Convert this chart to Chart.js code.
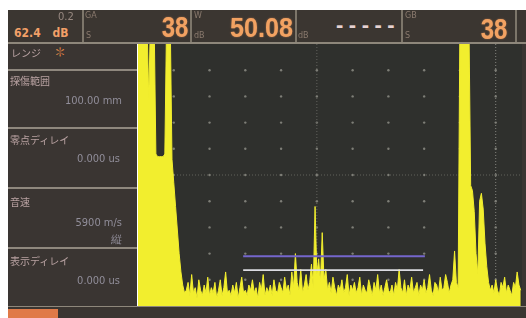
<!DOCTYPE html>
<html><head><meta charset="utf-8">
<script src="https://cdn.jsdelivr.net/npm/chart.js@4.4.0/dist/chart.umd.min.js"></script>
<style>
html,body{margin:0;padding:0;background:#fff;width:526px;height:318px;overflow:hidden;}
#wrap{position:relative;width:526px;height:318px;font-family:"Noto Sans CJK JP","DejaVu Sans",sans-serif;}
#c{position:absolute;left:0;top:0;z-index:2;}
.box{position:absolute;}
.t{position:absolute;white-space:nowrap;line-height:1;}
.big{font-family:"Liberation Sans",Arial,sans-serif;font-weight:bold;color:#f2a262;text-shadow:0 0 2px rgba(240,150,90,0.6);transform-origin:right top;}
.lab{color:#b9a2a2;font-size:10px;filter:blur(0.5px);}
.val{color:#918e9a;font-size:11px;font-family:"DejaVu Sans Condensed","DejaVu Sans",sans-serif;filter:blur(0.5px);text-align:right;}
.tiny{color:#8a7a6e;font-size:8px;font-family:"DejaVu Sans",sans-serif;filter:blur(0.4px);}
</style></head>
<body><div id="wrap">
<div class="box" style="left:8px;top:10px;width:518px;height:32px;background:#3b3631;border-bottom:2px solid #8e877b;"></div>
<div class="box" style="left:82px;top:10px;width:2px;height:32px;background:#7d766a;"></div>
<div class="box" style="left:190px;top:10px;width:2px;height:32px;background:#7d766a;"></div>
<div class="box" style="left:295px;top:10px;width:2px;height:32px;background:#7d766a;"></div>
<div class="box" style="left:401px;top:10px;width:2px;height:32px;background:#7d766a;"></div>
<div class="box" style="left:515px;top:10px;width:2px;height:32px;background:#7d766a;"></div>
<div class="t" style="left:58px;top:12px;font-size:10px;color:#978880;font-family:'DejaVu Sans',sans-serif;filter:blur(0.4px);">0.2</div>
<div class="t" style="left:14px;top:27px;font-size:12px;font-weight:bold;color:#f2a068;font-family:'DejaVu Sans Condensed','DejaVu Sans',sans-serif;">62.4 <span style="margin-left:8px">dB</span></div>
<div class="t tiny" style="left:85px;top:12px;">GA</div>
<div class="t tiny" style="left:86px;top:32px;">S</div>
<div class="t tiny" style="left:194px;top:12px;">W</div>
<div class="t tiny" style="left:194px;top:32px;">dB</div>
<div class="t tiny" style="left:298px;top:32px;">dB</div>
<div class="t tiny" style="left:405px;top:12px;">GB</div>
<div class="t tiny" style="left:405px;top:32px;">S</div>
<div class="t big" style="right:338px;top:12px;font-size:30px;transform:scaleX(0.8);">38</div>
<div class="t big" style="right:233px;top:14px;font-size:28px;transform:scaleX(0.9);">50.08</div>
<div class="t" style="left:336px;top:14px;font-size:22px;font-weight:bold;color:#e6d2d2;letter-spacing:5.5px;font-family:'Liberation Sans',Arial,sans-serif;">-----</div>
<div class="t big" style="right:19px;top:14px;font-size:30px;transform:scaleX(0.8);">38</div>

<div class="box" style="left:8px;top:44px;width:129px;height:262px;background:#3a3532;"></div>
<div class="box" style="left:8px;top:69px;width:129px;height:2px;background:#8f887e;"></div>
<div class="box" style="left:8px;top:127px;width:129px;height:2px;background:#8f887e;"></div>
<div class="box" style="left:8px;top:187px;width:129px;height:2px;background:#8f887e;"></div>
<div class="box" style="left:8px;top:247px;width:129px;height:2px;background:#8f887e;"></div>
<div class="t lab" style="left:11px;top:48px;">レンジ</div>
<div class="t" style="left:54px;top:46px;font-size:12px;color:#e08848;">✽</div>
<div class="t lab" style="left:10px;top:76px;">探傷範囲</div>
<div class="t val" style="right:404px;top:95px;">100.00 mm</div>
<div class="t lab" style="left:10px;top:135px;">零点ディレイ</div>
<div class="t val" style="right:406px;top:153px;">0.000 us</div>
<div class="t lab" style="left:10px;top:197px;">音速</div>
<div class="t val" style="right:404px;top:217px;">5900 m/s</div>
<div class="t val" style="right:404px;top:234px;">縦</div>
<div class="t lab" style="left:10px;top:256px;">表示ディレイ</div>
<div class="t val" style="right:406px;top:275px;">0.000 us</div>

<div class="box" style="left:522px;top:44px;width:4px;height:262px;background:#3a3532;"></div>
<div class="box" style="left:8px;top:306px;width:518px;height:12px;background:#3a3531;border-top:1px solid #8e877b;"></div>
<div class="box" style="left:8px;top:309px;width:50px;height:9px;background:#e07a48;"></div>
<canvas id="c" width="526" height="318"></canvas>
</div>
<script>
// A-scan amplitude (% FSH), sampled every 0.5 horizontal units (0..100 = 10 grid divisions)
const sampleStep = 0.5;
const amplitude = [
 110,110,110,110,110,110,79,110,110,110,58,57,57,57,57,58,110,110,110,56,47,38,29,20,13,8,5,
 6,9,4,12,5,7,3,10,6,4,8,5,11,4,
 7,5,9,3,6,10,4,7,13,5,6,4,8,5,9,3,7,11,5,6,
 4,8,6,10,5,7,3,9,6,12,4,7,5,8,4,10,6,5,9,7,
 5,11,6,8,4,13,7,20,9,6,14,5,8,12,6,9,16,7,38,12,
 18,9,28,10,14,6,9,5,11,7,4,8,6,10,5,7,12,4,8,6,
 9,5,7,11,4,8,6,5,10,7,4,9,6,12,5,8,4,7,10,6,
 5,8,4,9,6,14,7,5,10,4,8,6,11,5,7,9,4,8,6,10,
 5,7,12,6,4,9,8,5,11,6,7,12,9,5,8,10,21,9,7,
 110,110,110,110,110,110,
 46,44,36,20,12,40,43,37,24,15,9,6,
 8,5,10,6,4,9,7,11,5,8,6,4,9,7,13,8,6
];
const gridX = [10,20,30,40,50,60,70,80,90,100];
const gridY = [10,20,30,40,50,60,70,80,90];
const centerX = 50, centerY = 50, rightCursor = 100;
const gateA = {start:29.4, end:80.2, level:19};
const gateB = {start:29.4, end:79.7, level:13.7};
const xMax = 107.35;

const wave = amplitude.map((v,i)=>({x:i*sampleStep, y:v}));
const dots = [];
gridX.forEach(gx=>gridY.forEach(gy=>dots.push({x:gx,y:gy})));

const bg = {id:'bg',beforeDraw(ch){const a=ch.chartArea,c=ch.ctx;c.save();c.fillStyle='#2f302d';c.fillRect(a.left,a.top,a.right-a.left,a.bottom-a.top);c.restore();}};

new Chart(document.getElementById('c'),{
 type:'scatter',
 data:{datasets:[
  {data:wave,showLine:true,fill:'origin',borderColor:'#f2ee2e',backgroundColor:'#f2ee2e',borderWidth:1,pointRadius:0,tension:0,order:2,clip:0},
  {data:[{x:gateA.start,y:gateA.level},{x:gateA.end,y:gateA.level}],showLine:true,borderColor:'#7566cc',borderWidth:2,pointRadius:0,order:0},
  {data:[{x:gateB.start,y:gateB.level},{x:gateB.end,y:gateB.level}],showLine:true,borderColor:'#dcdce2',borderWidth:1.6,pointRadius:0,order:0},
  {data:[{x:centerX,y:0},{x:centerX,y:100}],showLine:true,borderColor:'#62625d',borderWidth:1,borderDash:[1,2],pointRadius:0,order:4},
  {data:[{x:0,y:centerY},{x:xMax,y:centerY}],showLine:true,borderColor:'#62625d',borderWidth:1,borderDash:[1,2],pointRadius:0,order:4},
  {data:[{x:rightCursor,y:0},{x:rightCursor,y:100}],showLine:true,borderColor:'#85857e',borderWidth:1,borderDash:[1,2],pointRadius:0,order:4},
  {data:dots,pointRadius:1.2,pointBackgroundColor:'#7e7e77',pointBorderWidth:0,order:5}
 ]},
 options:{responsive:false,animation:false,events:[],
  layout:{padding:{left:138,right:4,top:44,bottom:12}},
  plugins:{legend:{display:false},tooltip:{enabled:false}},
  scales:{x:{type:'linear',min:0,max:xMax,display:false},y:{min:0,max:100,display:false}}
 },
 plugins:[bg]
});
</script>
</body></html>
